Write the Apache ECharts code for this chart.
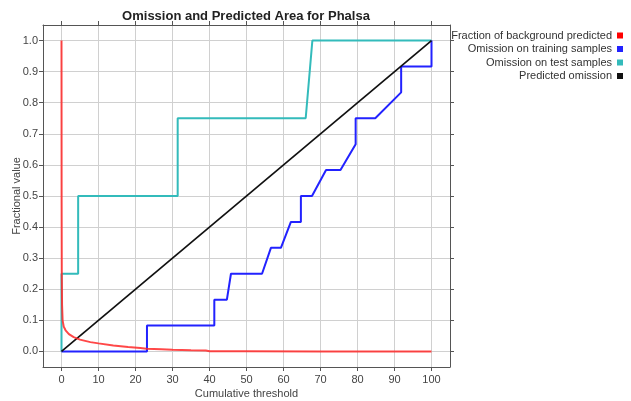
<!DOCTYPE html>
<html><head><meta charset="utf-8">
<script src="https://cdn.jsdelivr.net/npm/echarts@6/dist/echarts.min.js"></script>
<style>html,body{margin:0;padding:0;background:#fff}#c{width:631px;height:401px}</style>
</head><body><div id="c"></div>
<script>
var xTicks = [0,10,20,30,40,50,60,70,80,90,100];
var yTicks = [0,0.1,0.2,0.3,0.4,0.5,0.6,0.7,0.8,0.9,1.0];
var seriesNames = ['Fraction of background predicted','Omission on training samples','Omission on test samples','Predicted omission'];
var bgX = [0, 0.03, 0.08, 0.15, 0.3, 0.6, 1.1, 2, 3.3, 5, 7.8, 10, 14, 18, 21.3, 23, 27, 30, 35, 39, 40, 50, 70, 100];
var bgY = [1.0, 0.5, 0.25, 0.15, 0.1, 0.08, 0.068, 0.056, 0.046, 0.038, 0.03, 0.026, 0.019, 0.014, 0.011, 0.009, 0.007, 0.0055, 0.004, 0.003, 0.0008, 0.0004, 0.0002, 0];
var trainX = [0, 23.1, 23.1, 41.3, 41.3, 44.7, 45.8, 54.2, 56.6, 59.3, 62.0, 64.7, 64.7, 67.7, 71.5, 75.4, 79.5, 79.5, 84.8, 91.8, 91.8, 100, 100];
var trainY = [0, 0, 0.0833, 0.0833, 0.1667, 0.1667, 0.25, 0.25, 0.3333, 0.3333, 0.4167, 0.4167, 0.5, 0.5, 0.5833, 0.5833, 0.6667, 0.75, 0.75, 0.8333, 0.9167, 0.9167, 1.0];
var testX = [0, 0, 4.5, 4.5, 31.4, 31.4, 66.0, 67.8, 100];
var testY = [0, 0.25, 0.25, 0.5, 0.5, 0.75, 0.75, 1.0, 1.0];
var predX = [0, 100];
var predY = [0, 1];

function zip(a, b) { return a.map(function (v, i) { return [v, b[i]]; }); }
var colors = ['rgba(255,40,40,0.85)', '#2222ff', '#33bbbb', '#111111'];
var FONT = 'Liberation Sans, Arial, sans-serif';
function xAx(pos, show) {
  return {type:'value', min:-5, max:105, position:pos,
    axisLine:{show:true, onZero:false, lineStyle:{color:'#555', width:1}},
    axisTick:{show:true, inside:false, length:4, customValues:xTicks, lineStyle:{color:'#555'}},
    axisLabel:{show:show, customValues:xTicks, margin:7, formatter:function(v){return String(v);}, color:'#444', fontSize:11, fontFamily:FONT},
    splitLine:{show:show, lineStyle:{color:'#d0d0d0', width:1}},
    name: show ? 'Cumulative threshold' : '', nameLocation:'middle', nameGap:21, nameMoveOverlap:false,
    nameTextStyle:{color:'#444', fontSize:11, fontFamily:FONT}};
}
function yAx(pos, show) {
  return {type:'value', min:-0.05, max:1.05, position:pos,
    axisLine:{show:true, onZero:false, lineStyle:{color:'#555', width:1}},
    axisTick:{show:true, inside:false, length:4, customValues:yTicks, lineStyle:{color:'#555'}},
    axisLabel:{show:show, customValues:yTicks, margin:5, formatter:function(v){return v.toFixed(1);}, color:'#444', fontSize:11, fontFamily:FONT},
    splitLine:{show:show, lineStyle:{color:'#d0d0d0', width:1}},
    name: show ? 'Fractional value' : '', nameLocation:'middle', nameGap:21, nameRotate:90, nameMoveOverlap:false,
    nameTextStyle:{color:'#444', fontSize:11, fontFamily:FONT}};
}
var legends = seriesNames.map(function (n, i) {
  return {data:[n], orient:'vertical', right:8, top:30 + i*13.5, align:'right', padding:0,
    itemWidth:6, itemHeight:6, itemGap:4, icon:'rect', selectedMode:false,
    textStyle:{color:'#333', fontSize:11, fontFamily:FONT, padding:[0,0,0,0]}};
});
var chart = echarts.init(document.getElementById('c'), null, {renderer:'canvas'});
chart.setOption({
  animation:false,
  backgroundColor:'#fff',
  title:{text:'Omission and Predicted Area for Phalsa', left:241, top:5, textAlign:'center',
    textStyle:{fontSize:13, fontWeight:'bold', color:'#222', fontFamily:FONT}},
  legend: legends,
  grid:{left:43, right:181, top:25, bottom:34, containLabel:false, outerBoundsMode:'none'},
  xAxis:[xAx('bottom', true), xAx('top', false)],
  yAxis:[yAx('left', true), yAx('right', false)],
  series:[
    {name:seriesNames[2], type:'line', data:zip(testX, testY), showSymbol:false, symbol:'none', z:2, lineStyle:{color:colors[2], width:2}, itemStyle:{color:colors[2]}},
    {name:seriesNames[1], type:'line', data:zip(trainX, trainY), showSymbol:false, symbol:'none', z:3, lineStyle:{color:colors[1], width:2}, itemStyle:{color:colors[1]}},
    {name:seriesNames[3], type:'line', data:zip(predX, predY), showSymbol:false, symbol:'none', z:4, lineStyle:{color:colors[3], width:1.7}, itemStyle:{color:colors[3]}},
    {name:seriesNames[0], type:'line', data:zip(bgX, bgY), showSymbol:false, symbol:'none', z:5, lineStyle:{color:colors[0], width:2}, itemStyle:{color:'#ff0000'}}
  ]
});
</script></body></html>
